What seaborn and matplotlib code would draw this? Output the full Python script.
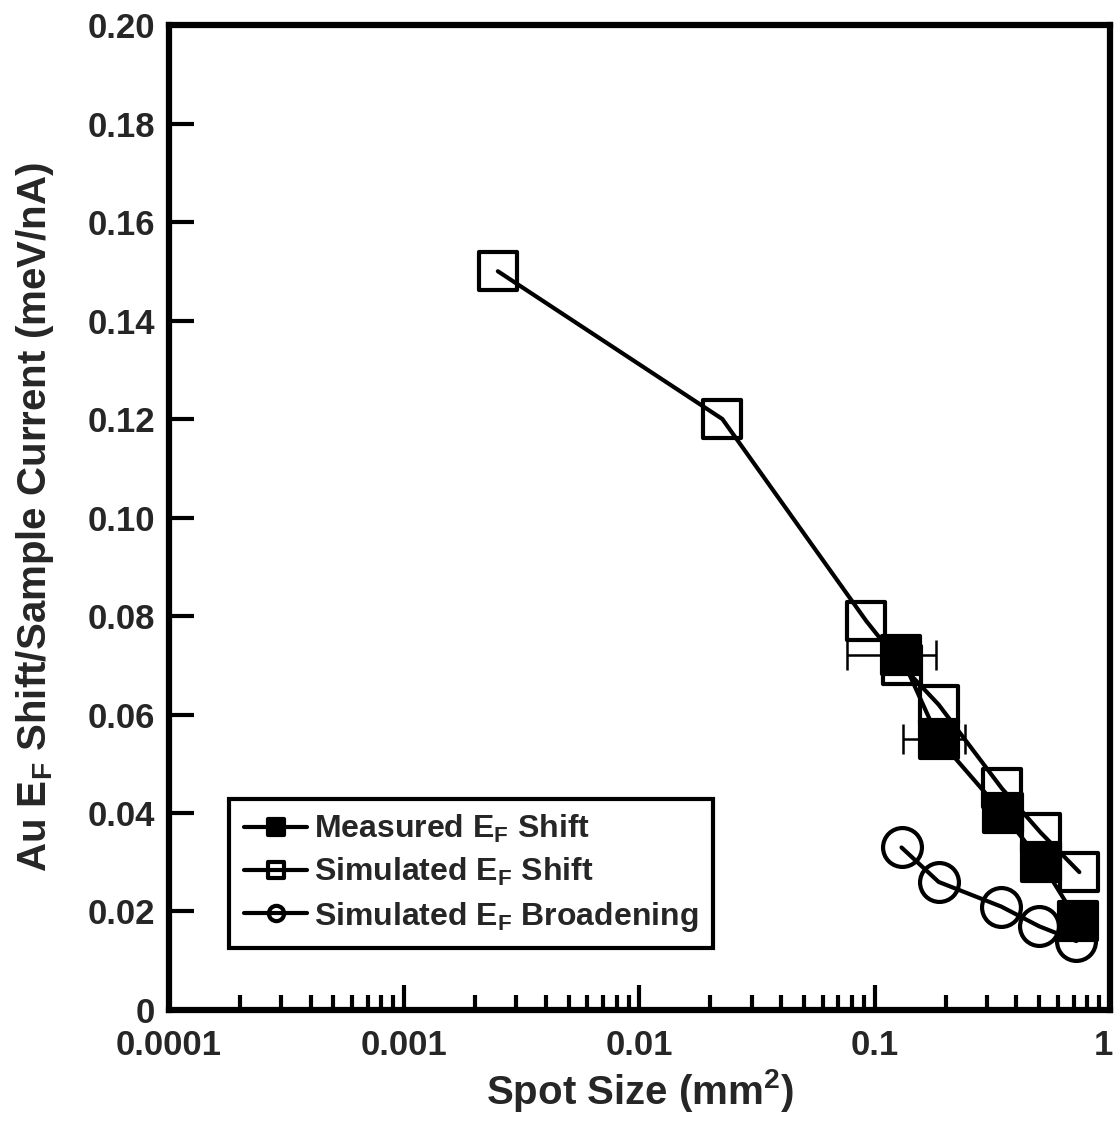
import matplotlib
matplotlib.use("Agg")
import matplotlib.pyplot as plt
import matplotlib.transforms as mtransforms
import seaborn as sns
import numpy as np
import pandas as pd
from matplotlib.lines import Line2D
from matplotlib.markers import MarkerStyle
from matplotlib.ticker import LogLocator, FixedLocator, NullFormatter

# ---- data ----
meas_x = [0.129, 0.187, 0.35, 0.51, 0.73]
meas_y = [0.072, 0.055, 0.040, 0.030, 0.018]
meas_xerr = [0.053, 0.055, 0.0, 0.0, 0.0]

sim_shift_x = [0.0025, 0.0225, 0.092, 0.130, 0.187, 0.347, 0.508, 0.741]
sim_shift_y = [0.150, 0.120, 0.079, 0.070, 0.062, 0.045, 0.036, 0.028]

sim_broad_x = [0.130, 0.187, 0.345, 0.50, 0.72]
sim_broad_y = [0.033, 0.026, 0.021, 0.017, 0.014]

y_ticks = [0, 0.02, 0.04, 0.06, 0.08, 0.10, 0.12, 0.14, 0.16, 0.18, 0.20]
y_tick_labels = ["0", "0.02", "0.04", "0.06", "0.08", "0.10", "0.12", "0.14", "0.16", "0.18", "0.20"]
x_ticks = [0.0001, 0.001, 0.01, 0.1, 1]
x_tick_labels = ["0.0001", "0.001", "0.01", "0.1", "1"]

legend_labels = [r"Measured E$_\mathbf{F}$ Shift",
                 r"Simulated E$_\mathbf{F}$ Shift",
                 r"Simulated E$_\mathbf{F}$ Broadening"]

# ---- style ----
sns.set_theme(style="ticks")
plt.rcParams['font.family'] = ['Liberation Sans', 'DejaVu Sans']
plt.rcParams['font.weight'] = 'bold'
plt.rcParams['mathtext.fontset'] = 'custom'
plt.rcParams['mathtext.rm'] = 'Liberation Sans:bold'
plt.rcParams['mathtext.bf'] = 'Liberation Sans:bold'
plt.rcParams['mathtext.it'] = 'Liberation Sans:bold'

fig = plt.figure(figsize=(11.17, 11.37), dpi=100)
ax = fig.add_axes([0.1513, 0.1117, 0.8424, 0.8663])

lw = 3.0
ms = 28
mew = 3.0
sq = MarkerStyle("s", joinstyle="round")
circ = MarkerStyle("o")

df_meas = pd.DataFrame({"x": meas_x, "y": meas_y})
df_shift = pd.DataFrame({"x": sim_shift_x, "y": sim_shift_y})
df_broad = pd.DataFrame({"x": sim_broad_x, "y": sim_broad_y})

sns.lineplot(data=df_broad, x="x", y="y", sort=False, ax=ax, color="black",
             lw=lw, marker=circ, markersize=ms, mfc="none", mec="black", mew=mew)
sns.lineplot(data=df_shift, x="x", y="y", sort=False, ax=ax, color="black",
             lw=lw, marker=sq, markersize=ms, mfc="none", mec="black", mew=mew)
sns.lineplot(data=df_meas, x="x", y="y", sort=False, ax=ax, color="black",
             lw=lw, marker=sq, markersize=ms, mfc="black", mec="black", mew=mew)

# error bars (only where nonzero)
ex = [x for x, e in zip(meas_x, meas_xerr) if e > 0]
ey = [y for y, e in zip(meas_y, meas_xerr) if e > 0]
ee = [e for e in meas_xerr if e > 0]
ax.errorbar(ex, ey, xerr=ee, fmt="none", ecolor="black", elinewidth=1.8,
            capsize=11, capthick=1.8, zorder=1)

ax.set_xscale("log")
ax.set_xlim(0.0001, 1)
ax.set_ylim(0, 0.20)

ax.xaxis.set_major_locator(FixedLocator(x_ticks))
ax.set_xticklabels(x_tick_labels)
ax.xaxis.set_minor_locator(LogLocator(base=10, subs=np.arange(2, 10), numticks=20))
ax.xaxis.set_minor_formatter(NullFormatter())
ax.set_yticks(y_ticks)
ax.set_yticklabels(y_tick_labels)

ax.tick_params(axis="both", which="major", direction="in", length=18, width=3,
               labelsize=25, color="black")
ax.tick_params(axis="x", which="major", pad=14)
ax.tick_params(axis="y", which="major", pad=10)
ax.tick_params(axis="x", which="minor", direction="in", length=11, width=3, color="black")
ax.tick_params(axis="y", which="minor", left=False)
for lab in ax.get_xticklabels() + ax.get_yticklabels():
    lab.set_fontweight("bold")

# keep the last x tick label ("1") inside the figure edge
last = ax.get_xticklabels()[-1]
last.set_transform(last.get_transform() +
                   mtransforms.ScaledTranslation(-5 / 72, 0, fig.dpi_scale_trans))

for s in ax.spines.values():
    s.set_linewidth(4.5)
    s.set_color("black")

ax.set_xlabel(r"Spot Size (mm$^\mathbf{2}$)", fontsize=29, fontweight="bold", labelpad=3)
ax.set_ylabel(r"Au E$_\mathbf{F}$ Shift/Sample Current (meV/nA)", fontsize=29,
              fontweight="bold", labelpad=23)

handles = [
    Line2D([], [], color="black", lw=lw, marker=sq, markersize=11, mfc="black", mec="black", mew=3),
    Line2D([], [], color="black", lw=lw, marker=sq, markersize=11, mfc="none", mec="black", mew=3),
    Line2D([], [], color="black", lw=lw, marker=circ, markersize=11, mfc="none", mec="black", mew=3),
]
leg = ax.legend(handles, legend_labels, loc="lower left", bbox_to_anchor=(0.064, 0.063),
                frameon=True, fancybox=False, handlelength=2.0,
                handletextpad=0.2, borderpad=0.45, labelspacing=0.35,
                borderaxespad=0, prop={"weight": "bold", "size": 23})
leg.get_frame().set_edgecolor("black")
leg.get_frame().set_linewidth(3)
leg.get_frame().set_alpha(1)

fig.savefig("out.png", dpi=100)
